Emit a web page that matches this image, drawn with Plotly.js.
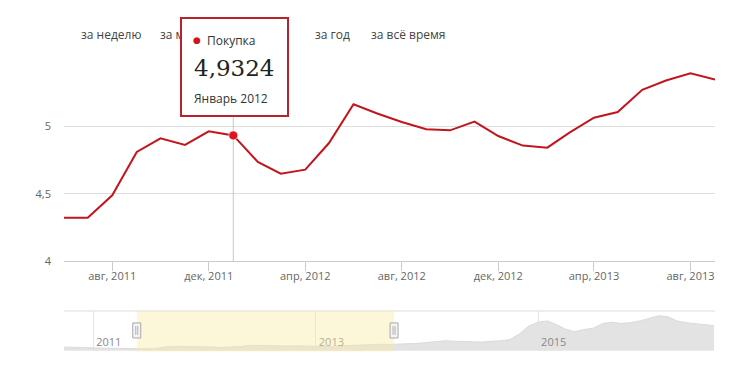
<!DOCTYPE html>
<html>
<head>
<meta charset="utf-8">
<script src="https://cdn.plot.ly/plotly-3.0.1.min.js"></script>
<style>
  html, body { margin: 0; padding: 0; background: #fff; }
  #chart { width: 731px; height: 369px; }
</style>
</head>
<body>
<div id="chart"></div>
<script>
// ---- data (CNY/RUB buy rate, monthly) ----
const dates = [
  '2011-06-01','2011-07-01','2011-08-01','2011-09-01','2011-10-01','2011-11-01','2011-12-01',
  '2012-01-01','2012-02-01','2012-03-01','2012-04-01','2012-05-01','2012-06-01','2012-07-01',
  '2012-08-01','2012-09-01','2012-10-01','2012-11-01','2012-12-01',
  '2013-01-01','2013-02-01','2013-03-01','2013-04-01','2013-05-01','2013-06-01','2013-07-01',
  '2013-08-01','2013-09-01'
];
const buyRate = [
  4.323, 4.323, 4.489, 4.810, 4.911, 4.862, 4.963,
  4.9324, 4.736, 4.649, 4.679, 4.876, 5.163, 5.095,
  5.032, 4.978, 4.970, 5.035, 4.928,
  4.857, 4.842, 4.953, 5.064, 5.106, 5.270, 5.339,
  5.393, 5.346
];

// navigator series: before and after the zoomed window
const navBeforeDates = ['2010-09-01','2010-10-01','2010-11-01','2010-12-01','2011-01-01','2011-02-01','2011-03-01','2011-04-01','2011-05-01'];
const navBeforeValues = [4.75, 4.75, 4.70, 4.65, 4.55, 4.50, 4.42, 4.35, 4.30];
const navAfterDates = [
  '2013-10-01','2013-11-01','2013-12-01',
  '2014-01-01','2014-02-01','2014-03-01','2014-04-01','2014-05-01','2014-06-01',
  '2014-07-01','2014-08-01','2014-09-01','2014-10-01','2014-11-01','2014-12-01',
  '2015-01-01','2015-02-01','2015-03-01','2015-04-01','2015-05-01','2015-06-01',
  '2015-07-01','2015-08-01','2015-09-01','2015-10-01','2015-11-01','2015-12-01',
  '2016-01-01','2016-02-01','2016-03-01','2016-04-01','2016-05-01','2016-06-01',
  '2016-07-01','2016-08-01'
];
const navAfterValues = [
  5.4, 5.5, 5.6,
  5.8, 6.0, 6.2, 6.1, 6.0, 5.9,
  5.9, 6.1, 6.2, 6.5, 7.8, 9.6,
  10.5, 10.8, 10.0, 8.9, 8.3, 8.8,
  9.1, 10.2, 10.5, 10.2, 10.4, 10.8,
  11.4, 12.0, 11.8, 10.8, 10.4, 10.2,
  9.9, 9.7
];

const tickDates = ['2011-08-01','2011-12-01','2012-04-01','2012-08-01','2012-12-01','2013-04-01','2013-08-01'];
const tickLabels = ['авг, 2011','дек, 2011','апр, 2012','авг, 2012','дек, 2012','апр, 2013','авг, 2013'];
const yTickVals = [4, 4.5, 5, 5.5];
const yTickLabels = ['4', '4,5', '5', ''];
const navTickDates = ['2011-01-01','2013-01-01','2015-01-01'];
const navTickLabels = ['2011','2013','2015'];
const rangeButtons = ['за неделю', 'за месяц', 'за год', 'за всё время'];
const monthNames = ['Январь','Февраль','Март','Апрель','Май','Июнь','Июль','Август','Сентябрь','Октябрь','Ноябрь','Декабрь'];
const seriesName = 'Покупка';
const hoverIndex = 7;
const navSelection = ['2011-05-24', '2013-09-15'];

// ---- helpers ----
const W = 731, H = 369, ML = 64, MR = 16;
const px = v => (v - ML) / (W - ML - MR);
const py = v => 1 - v / H;
const RED = '#c2151c';
const FONT = 'Open Sans, Noto Sans, sans-serif';

const navDates = navBeforeDates.concat(dates, navAfterDates);
const navValues = navBeforeValues.concat(buyRate, navAfterValues);

const hDate = dates[hoverIndex];
const hVal = buyRate[hoverIndex];
const hMonth = monthNames[parseInt(hDate.slice(5, 7), 10) - 1] + ' ' + hDate.slice(0, 4);
const hText = hVal.toFixed(4).replace('.', ',');

const traces = [
  {
    x: dates, y: buyRate, type: 'scatter', mode: 'lines',
    line: { color: RED, width: 2 }, hoverinfo: 'skip', xaxis: 'x', yaxis: 'y'
  },
  {
    x: [hDate], y: [hVal], type: 'scatter', mode: 'markers',
    marker: { color: '#e0141c', size: 9, line: { color: 'rgba(255,255,255,0.6)', width: 1 } },
    hoverinfo: 'skip', xaxis: 'x', yaxis: 'y', cliponaxis: false
  },
  {
    x: navDates, y: navValues, type: 'scatter', mode: 'lines', fill: 'tozeroy',
    line: { color: '#dadada', width: 1 }, fillcolor: '#e3e3e3',
    hoverinfo: 'skip', xaxis: 'x2', yaxis: 'y2'
  }
];

const shapes = [
  // crosshair
  { type: 'line', xref: 'x', yref: 'y', x0: hDate, x1: hDate, y0: 4, y1: 5.5,
    line: { color: '#c8c8c8', width: 1 }, layer: 'between' },
  // navigator top border
  { type: 'line', xref: 'x2 domain', yref: 'y2 domain', x0: 0, x1: 1, y0: 1, y1: 1,
    line: { color: '#dddddd', width: 1 } },
  // navigator selection
  { type: 'rect', xref: 'x2', yref: 'y2 domain', x0: navSelection[0], x1: navSelection[1], y0: -0.02, y1: 1,
    fillcolor: 'rgba(250,234,160,0.40)', line: { width: 0 }, layer: 'above' }
];
navSelection.forEach(d => {
  shapes.push({ type: 'rect', xref: 'x2', xsizemode: 'pixel', xanchor: d, x0: -4, x1: 4,
    yref: 'y2 domain', y0: 0.32, y1: 0.70, fillcolor: '#f4f4f4', line: { color: '#a8a8a8', width: 1 }, layer: 'above' });
  [-1, 1].forEach(o => shapes.push({ type: 'line', xref: 'x2', xsizemode: 'pixel', xanchor: d, x0: o, x1: o,
    yref: 'y2 domain', y0: 0.40, y1: 0.62, line: { color: '#b0b0b0', width: 1 }, layer: 'above' }));
});

const annotations = [];
const btnX = [79, 158, 313, 369];
rangeButtons.forEach((t, i) => annotations.push({
  text: t, xref: 'paper', yref: 'paper', x: px(btnX[i]), y: py(34),
  xanchor: 'left', yanchor: 'middle', showarrow: false,
  font: { family: FONT, size: 12, color: '#444' }
}));
// tooltip box (drawn over the range buttons, as in the hover state)
annotations.push({
  text: ' ', xref: 'paper', yref: 'paper', x: px(234.2), y: py(67.3),
  xanchor: 'center', yanchor: 'middle', showarrow: false,
  width: 105, height: 96, borderpad: 0, bgcolor: '#ffffff',
  bordercolor: '#b8232a', borderwidth: 2, font: { size: 4 }
});
annotations.push({
  text: '●', xref: 'paper', yref: 'paper', x: px(196.5), y: py(40.5),
  xanchor: 'center', yanchor: 'middle', showarrow: false,
  font: { family: 'DejaVu Sans', size: 9, color: '#d0141c' }
});
annotations.push({
  text: seriesName, xref: 'paper', yref: 'paper', x: px(204.5), y: py(40),
  xanchor: 'left', yanchor: 'middle', showarrow: false,
  font: { family: FONT, size: 12, color: '#333' }
});
annotations.push({
  text: hText, xref: 'paper', yref: 'paper', x: px(192), y: py(68),
  xanchor: 'left', yanchor: 'middle', showarrow: false,
  font: { family: 'DejaVu Serif', size: 23, color: '#222' }
});
annotations.push({
  text: hMonth, xref: 'paper', yref: 'paper', x: px(192), y: py(98),
  xanchor: 'left', yanchor: 'middle', showarrow: false,
  font: { family: FONT, size: 12, color: '#333' }
});

const layout = {
  width: W, height: H,
  margin: { l: ML, r: MR, t: 0, b: 0, pad: 0 },
  paper_bgcolor: '#fff', plot_bgcolor: '#fff',
  showlegend: false,
  font: { family: FONT },
  xaxis: {
    type: 'date', range: ['2011-06-01', '2013-09-01'], domain: [0, 1], anchor: 'y',
    tickvals: tickDates, ticktext: tickLabels,
    showgrid: false, zeroline: false, showline: true, linecolor: '#cccccc', linewidth: 1,
    ticks: 'outside', ticklen: 9, tickcolor: '#cccccc', tickwidth: 1, ticklabelstandoff: -5,
    tickfont: { family: FONT, size: 11, color: '#666' }, fixedrange: true
  },
  yaxis: {
    range: [4, 5.5], domain: [py(261.3), py(58.8)], anchor: 'x',
    tickvals: yTickVals, ticktext: yTickLabels,
    showgrid: true, gridcolor: '#dedede', gridwidth: 1, zeroline: false, showline: false,
    ticks: '', ticklabelstandoff: 12,
    tickfont: { family: FONT, size: 11, color: '#666' }, fixedrange: true
  },
  xaxis2: {
    type: 'date', range: ['2010-09-27', '2016-08-04'], domain: [0, 1], anchor: 'y2',
    tickvals: navTickDates, ticktext: navTickLabels,
    showgrid: true, gridcolor: '#e4e4e4', zeroline: false, showline: false, ticks: '',
    ticklabelposition: 'inside right', ticklabelstandoff: -3, ticklabelshift: 3,
    tickfont: { family: FONT, size: 11, color: '#888' }, fixedrange: true
  },
  yaxis2: {
    range: [3.9, 13.1], domain: [py(350.7), py(311)], anchor: 'x2',
    showgrid: false, zeroline: false, showline: false, showticklabels: false, ticks: '', fixedrange: true
  },
  shapes: shapes,
  annotations: annotations
};

Plotly.newPlot('chart', traces, layout, { displayModeBar: false, staticPlot: true });
</script>
</body>
</html>
